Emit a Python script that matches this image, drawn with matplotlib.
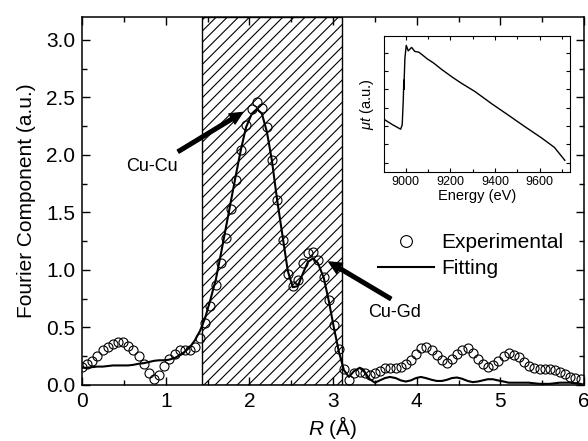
import numpy as np
import matplotlib
matplotlib.use("Agg")
import matplotlib.pyplot as plt
from matplotlib.lines import Line2D

plt.rcParams["font.family"] = ["Liberation Sans", "DejaVu Sans"]
plt.rcParams["mathtext.fontset"] = "custom"
plt.rcParams["mathtext.rm"] = "Liberation Sans"
plt.rcParams["mathtext.it"] = "Liberation Sans:italic"
plt.rcParams["hatch.linewidth"] = 0.8

# radial distance grid (Angstrom)
r = [0.00, 0.06, 0.12, 0.18, 0.25, 0.31, 0.37, 0.43, 0.49, 0.55,
     0.61, 0.68, 0.74, 0.80, 0.86, 0.92, 0.98, 1.04, 1.11, 1.17,
     1.23, 1.29, 1.35, 1.41, 1.47, 1.53, 1.60, 1.66, 1.72, 1.78,
     1.84, 1.90, 1.96, 2.03, 2.09, 2.15, 2.21, 2.27, 2.33, 2.40,
     2.46, 2.52, 2.58, 2.64, 2.70, 2.76, 2.82, 2.89, 2.95, 3.01,
     3.07, 3.13, 3.19, 3.25, 3.32, 3.38, 3.44, 3.50, 3.56, 3.62,
     3.68, 3.75, 3.81, 3.87, 3.93, 3.99, 4.05, 4.11, 4.18, 4.24,
     4.30, 4.36, 4.42, 4.48, 4.54, 4.61, 4.67, 4.73, 4.79, 4.85,
     4.91, 4.97, 5.04, 5.10, 5.16, 5.22, 5.28, 5.34, 5.40, 5.47,
     5.53, 5.59, 5.65, 5.71, 5.77, 5.83, 5.89, 5.96]

experimental = [0.16, 0.18, 0.21, 0.255, 0.30, 0.33, 0.36, 0.37, 0.37, 0.34,
                0.30, 0.25, 0.18, 0.10, 0.05, 0.09, 0.165, 0.23, 0.27, 0.30,
                0.30, 0.30, 0.33, 0.41, 0.54, 0.69, 0.87, 1.06, 1.28, 1.53,
                1.78, 2.04, 2.26, 2.40, 2.46, 2.41, 2.24, 1.96, 1.61, 1.26,
                0.965, 0.86, 0.91, 1.06, 1.15, 1.16, 1.09, 0.94, 0.74, 0.52,
                0.31, 0.14, 0.04, 0.10, 0.11, 0.10, 0.087, 0.10, 0.12, 0.145,
                0.15, 0.15, 0.16, 0.18, 0.22, 0.27, 0.32, 0.33, 0.30, 0.26,
                0.22, 0.19, 0.23, 0.27, 0.30, 0.32, 0.28, 0.23, 0.18, 0.16,
                0.17, 0.21, 0.25, 0.275, 0.26, 0.24, 0.20, 0.165, 0.145, 0.135,
                0.135, 0.135, 0.13, 0.115, 0.095, 0.07, 0.06, 0.05]

fitting = [0.15, 0.15, 0.155, 0.16, 0.16, 0.165, 0.17, 0.17, 0.17, 0.17,
           0.175, 0.185, 0.19, 0.20, 0.21, 0.215, 0.215, 0.22, 0.235, 0.26,
           0.29, 0.33, 0.39, 0.47, 0.58, 0.73, 0.92, 1.14, 1.37, 1.60,
           1.83, 2.05, 2.24, 2.36, 2.40, 2.36, 2.20, 1.95, 1.62, 1.28,
           0.99, 0.85, 0.86, 0.97, 1.07, 1.10, 1.06, 0.93, 0.73, 0.50,
           0.29, 0.13, 0.07, 0.12, 0.15, 0.11, 0.05, 0.02, 0.04, 0.06,
           0.07, 0.06, 0.04, 0.03, 0.04, 0.06, 0.07, 0.06, 0.045, 0.035,
           0.035, 0.045, 0.06, 0.065, 0.055, 0.035, 0.025, 0.03, 0.04, 0.05,
           0.05, 0.04, 0.03, 0.02, 0.02, 0.02, 0.02, 0.02, 0.015, 0.01,
           0.01, 0.01, 0.015, 0.02, 0.02, 0.02, 0.015, 0.01]

# fitting window
window = (1.43, 3.11)

# inset: XANES spectrum
energy = [8905, 8940, 8978, 8985, 8990, 8992, 8993, 8994, 8997, 9003,
          9012, 9027, 9041, 9059, 9074, 9096, 9126, 9163, 9207, 9251,
          9310, 9384, 9458, 9532, 9606, 9665, 9712]
mut = [2.35, 2.08, 1.82, 2.06, 3.5, 4.5, 4.0, 4.6, 5.7, 6.40,
       6.10, 6.29, 6.07, 6.03, 5.89, 5.67, 5.43, 5.07, 4.68, 4.32,
       3.88, 3.22, 2.60, 1.97, 1.36, 0.83, 0.12]

fig = plt.figure(figsize=(5.88, 4.41), dpi=100)
ax = fig.add_axes([0.1395, 0.127, 0.8537, 0.8345])

ax.axvspan(window[0], window[1], facecolor="white", edgecolor="black",
           hatch="///", lw=1.0, zorder=1)
ax.plot(r, fitting, color="black", lw=1.5, zorder=3)
ax.plot(r, experimental, "o", mfc="none", mec="black", ms=6.5, mew=0.8, zorder=4)

ax.set_xlim(0, 6)
ax.set_ylim(0, 3.2)
ax.set_xticks([0, 1, 2, 3, 4, 5, 6])
ax.set_xticks(np.arange(0, 6.01, 0.5), minor=True)
ax.set_yticks([0.0, 0.5, 1.0, 1.5, 2.0, 2.5, 3.0])
ax.set_yticks(np.arange(0, 3.2, 0.25), minor=True)
ax.set_yticklabels(["0.0", "0.5", "1.0", "1.5", "2.0", "2.5", "3.0"])
ax.tick_params(which="both", direction="in", top=True, right=True,
               labelsize=15, width=1.0)
ax.tick_params(which="major", length=6, pad=5)
ax.tick_params(which="minor", length=3.5)
for s in ax.spines.values():
    s.set_linewidth(1.1)

ax.set_xlabel(r"$R$ (Å)", fontsize=15, labelpad=2)
ax.set_ylabel("Fourier Component (a.u.)", fontsize=15, labelpad=7)

# peak labels with arrows
arrow = dict(facecolor="black", edgecolor="black", width=2.6, headwidth=8.5,
             headlength=9, shrink=0)
ax.annotate("", xy=(1.92, 2.37), xytext=(1.15, 2.03), arrowprops=arrow, zorder=5)
ax.text(0.84, 1.90, "Cu-Cu", fontsize=13, ha="center", va="center")
ax.annotate("", xy=(2.95, 1.07), xytext=(3.69, 0.75), arrowprops=arrow, zorder=5)
ax.text(3.74, 0.63, "Cu-Gd", fontsize=13, ha="center", va="center")

handles = [
    Line2D([], [], ls="none", marker="o", mfc="none", mec="black", ms=8.5, mew=0.8),
    Line2D([], [], color="black", lw=1.5),
]
ax.legend(handles, ["Experimental", "Fitting"], loc="upper left",
          bbox_to_anchor=(0.59, 0.412), frameon=False, fontsize=15,
          handlelength=2.7, handletextpad=0.35, labelspacing=0.32,
          borderpad=0, borderaxespad=0)

# inset
ins = fig.add_axes([0.6536, 0.6107, 0.3158, 0.3084])
ins.plot(energy, mut, color="black", lw=1.0)
ins.set_xlim(8905, 9735)
ins.set_ylim(-0.5, 6.93)
ins.set_xticks([9000, 9200, 9400, 9600])
ins.set_xticks(np.arange(9000, 9701, 100), minor=True)
ins.set_yticks(np.arange(0, 7, 1))
ins.set_yticklabels([])
ins.tick_params(which="both", direction="in", top=True, right=True,
                labelsize=9, width=0.8, pad=3)
ins.tick_params(which="major", length=3)
ins.tick_params(which="minor", length=2)
ins.set_xlabel("Energy (eV)", fontsize=10.5, labelpad=1)
ins.set_ylabel(r"$\mu t$ (a.u.)", fontsize=10.5, labelpad=3)

fig.savefig("out.png", dpi=100)
